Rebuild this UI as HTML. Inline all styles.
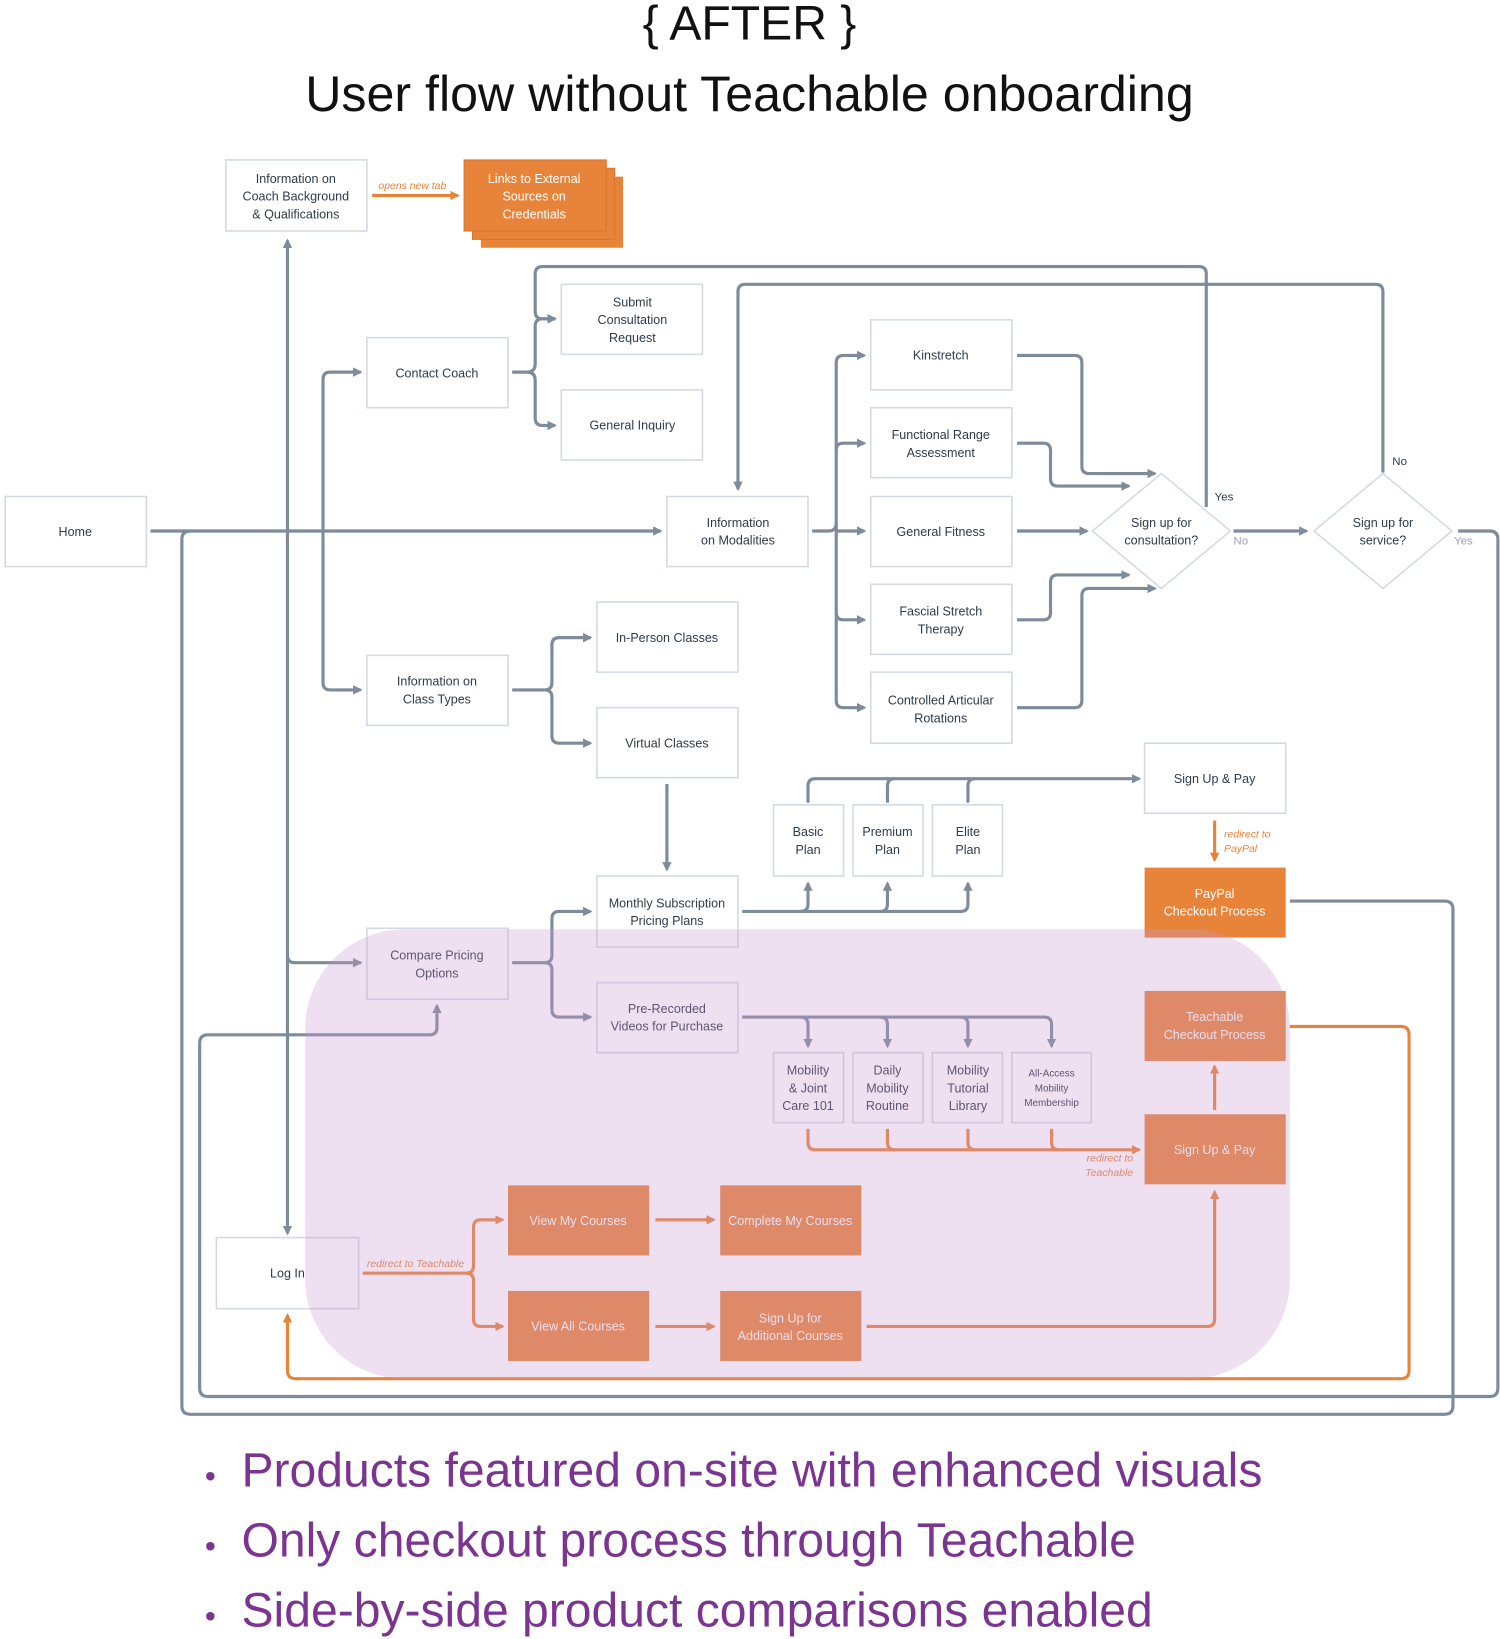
<!DOCTYPE html>
<html><head><meta charset="utf-8"><style>
html,body{margin:0;padding:0;background:#fff;}
svg{display:block;}
.n{font-family:"Liberation Sans",sans-serif;font-size:12px;fill:#2f3b48;text-anchor:middle;}
.w{fill:#fff;}
.lb{font-family:"Liberation Sans",sans-serif;font-size:10px;font-style:italic;fill:#e8843a;}
.g{fill:none;stroke:#7d8b9a;stroke-width:3;stroke-linejoin:round;}
.o{fill:none;stroke:#e8843a;stroke-width:3;stroke-linejoin:round;}
.bx{fill:#fff;stroke:#d3dae4;stroke-width:1.5;}
.ob{fill:#e8843a;}
</style></head><body>
<svg width="1500" height="1639" viewBox="0 0 1435 1568" xmlns="http://www.w3.org/2000/svg">
<defs>
<marker id="ag" viewBox="0 0 10 10" refX="8" refY="5" markerWidth="3" markerHeight="3" orient="auto"><path d="M0,0L10,5L0,10z" fill="#7d8b9a"/></marker>
<marker id="ao" viewBox="0 0 10 10" refX="8" refY="5" markerWidth="3" markerHeight="3" orient="auto"><path d="M0,0L10,5L0,10z" fill="#e8843a"/></marker>
</defs>
<text x="717" y="38" font-family="Liberation Sans,sans-serif" font-size="46" text-anchor="middle" fill="#111">{ AFTER }</text>
<text x="717" y="106" font-family="Liberation Sans,sans-serif" font-size="48" text-anchor="middle" fill="#111">User flow without Teachable onboarding</text>

<g class="g">
<path d="M144,508H632" marker-end="url(#ag)"/>
<path d="M275,1178V230" marker-end="url(#ag)"/>
<path d="M275,1178V1180" marker-end="url(#ag)"/>
<path d="M275,914Q275,921 282,921H345" marker-end="url(#ag)"/>
<path d="M309,508V363Q309,356 316,356H345" marker-end="url(#ag)"/>
<path d="M309,508V653Q309,660 316,660H345" marker-end="url(#ag)"/>
<path d="M490,356H504Q512,356 512,348V312Q512,305 519,305H531" marker-end="url(#ag)"/>
<path d="M504,356Q512,356 512,364V400Q512,407 519,407H531" marker-end="url(#ag)"/>
<path d="M1154,485V262Q1154,255 1147,255H519Q512,255 512,262V298Q512,305 519,305H531" marker-end="url(#ag)"/>
<path d="M1323,452V279Q1323,272 1316,272H713Q706,272 706,279V468" marker-end="url(#ag)"/>
<path d="M777,508H793Q800,508 800,500V347Q800,340 807,340H827" marker-end="url(#ag)"/>
<path d="M800,430Q800,424 807,424H827" marker-end="url(#ag)"/>
<path d="M800,508H827" marker-end="url(#ag)"/>
<path d="M800,500V670Q800,677 807,677H827" marker-end="url(#ag)"/>
<path d="M800,586Q800,593 807,593H827" marker-end="url(#ag)"/>
<path d="M973,340H1028Q1035,340 1035,347V446Q1035,453 1042,453H1105" marker-end="url(#ag)"/>
<path d="M973,424H998Q1005,424 1005,431V458Q1005,465 1012,465H1080" marker-end="url(#ag)"/>
<path d="M973,508H1040" marker-end="url(#ag)"/>
<path d="M973,593H998Q1005,593 1005,586V557Q1005,550 1012,550H1080" marker-end="url(#ag)"/>
<path d="M973,677H1028Q1035,677 1035,670V570Q1035,563 1042,563H1105" marker-end="url(#ag)"/>
<path d="M1180,508H1250" marker-end="url(#ag)"/>
<path d="M490,660H521Q528,660 528,653V617Q528,610 535,610H565" marker-end="url(#ag)"/>
<path d="M521,660Q528,660 528,667V704Q528,711 535,711H565" marker-end="url(#ag)"/>
<path d="M638,750V832" marker-end="url(#ag)"/>
<path d="M710,872H919Q926,872 926,865V845" marker-end="url(#ag)"/>
<path d="M766,872Q773,872 773,865V845" marker-end="url(#ag)"/>
<path d="M842,872Q849,872 849,865V845" marker-end="url(#ag)"/>
<path d="M773,768V752Q773,745 780,745H1090" marker-end="url(#ag)"/>
<path d="M849,768V752Q849,745 856,745"/>
<path d="M926,768V752Q926,745 933,745"/>
<path d="M490,921H521Q528,921 528,914V879Q528,872 535,872H565" marker-end="url(#ag)"/>
<path d="M521,921Q528,921 528,928V966Q528,973 535,973H565" marker-end="url(#ag)"/>
<path d="M710,973H999Q1006,973 1006,980V1001" marker-end="url(#ag)"/>
<path d="M766,973Q773,973 773,980V1001" marker-end="url(#ag)"/>
<path d="M842,973Q849,973 849,980V1001" marker-end="url(#ag)"/>
<path d="M919,973Q926,973 926,980V1001" marker-end="url(#ag)"/>
<path d="M1395,508H1425Q1433,508 1433,516V1328Q1433,1336 1425,1336H199Q191,1336 191,1328V998Q191,990 199,990H411Q418,990 418,983V962" marker-end="url(#ag)"/>
<path d="M1234,862H1382Q1390,862 1390,870V1345Q1390,1353 1382,1353H182Q174,1353 174,1345V516Q174,508 182,508"/>
</g>
<g class="o">
<path d="M356,187H438" marker-end="url(#ao)"/>
<path d="M1162,785V823" marker-end="url(#ao)"/>
<path d="M773,1080V1093Q773,1100 780,1100H1090" marker-end="url(#ao)"/>
<path d="M849,1080V1093Q849,1100 856,1100"/>
<path d="M926,1080V1093Q926,1100 933,1100"/>
<path d="M1006,1080V1093Q1006,1100 1013,1100"/>
<path d="M1162,1062V1020" marker-end="url(#ao)"/>
<path d="M1234,982H1340Q1348,982 1348,990V1311Q1348,1319 1340,1319H283Q275,1319 275,1311V1258" marker-end="url(#ao)"/>
<path d="M347,1218H446Q453,1218 453,1211V1174Q453,1167 460,1167H481" marker-end="url(#ao)"/>
<path d="M446,1218Q453,1218 453,1225V1262Q453,1269 460,1269H481" marker-end="url(#ao)"/>
<path d="M627,1167H683" marker-end="url(#ao)"/>
<path d="M627,1269H683" marker-end="url(#ao)"/>
<path d="M829,1269H1155Q1162,1269 1162,1262V1140" marker-end="url(#ao)"/>
</g>

<rect class="bx" x="216" y="153" width="135" height="68"/>
<text class="n" x="283" y="175">Information on</text><text class="n" x="283" y="192">Coach Background</text><text class="n" x="283" y="209">&amp; Qualifications</text>
<rect class="ob" x="460" y="169" width="136" height="68"/>
<rect class="ob" x="452" y="161" width="136" height="68" stroke="#d9752e" stroke-width="1"/>
<rect class="ob" x="444" y="153" width="136" height="68" stroke="#d9752e" stroke-width="1"/>
<text class="n w" x="511" y="175">Links to External</text><text class="n w" x="511" y="192">Sources on</text><text class="n w" x="511" y="209">Credentials</text>
<text class="lb" x="362" y="181">opens new tab</text>

<rect class="bx" x="537" y="272" width="135" height="67"/>
<text class="n" x="605" y="293">Submit</text><text class="n" x="605" y="310">Consultation</text><text class="n" x="605" y="327">Request</text>
<rect class="bx" x="351" y="323" width="135" height="67"/><text class="n" x="418" y="361">Contact Coach</text>
<rect class="bx" x="537" y="373" width="135" height="67"/><text class="n" x="605" y="411">General Inquiry</text>
<rect class="bx" x="833" y="306" width="135" height="67"/><text class="n" x="900" y="344">Kinstretch</text>
<rect class="bx" x="833" y="390" width="135" height="67"/><text class="n" x="900" y="420">Functional Range</text><text class="n" x="900" y="437">Assessment</text>
<rect class="bx" x="5" y="475" width="135" height="67"/><text class="n" x="72" y="513">Home</text>
<rect class="bx" x="638" y="475" width="135" height="67"/><text class="n" x="706" y="504">Information</text><text class="n" x="706" y="521">on Modalities</text>
<rect class="bx" x="833" y="475" width="135" height="67"/><text class="n" x="900" y="513">General Fitness</text>
<rect class="bx" x="833" y="559" width="135" height="67"/><text class="n" x="900" y="589">Fascial Stretch</text><text class="n" x="900" y="606">Therapy</text>
<rect class="bx" x="833" y="643" width="135" height="68"/><text class="n" x="900" y="674">Controlled Articular</text><text class="n" x="900" y="691">Rotations</text>
<path d="M1111,453L1177,508L1111,563L1045,508Z" fill="#fff" stroke="#d3dae4" stroke-width="1.5"/>
<text class="n" x="1111" y="504">Sign up for</text><text class="n" x="1111" y="521">consultation?</text>
<path d="M1323,453L1389,508L1323,563L1257,508Z" fill="#fff" stroke="#d3dae4" stroke-width="1.5"/>
<text class="n" x="1323" y="504">Sign up for</text><text class="n" x="1323" y="521">service?</text>
<text class="n" x="1171" y="479" style="font-size:11px">Yes</text>
<text class="n" x="1187" y="521" style="font-size:11px;fill:#9aa5b1">No</text>
<text class="n" x="1339" y="445" style="font-size:11px">No</text>
<text class="n" x="1400" y="521" style="font-size:11px;fill:#9aa5b1">Yes</text>

<rect class="bx" x="571" y="576" width="135" height="67"/><text class="n" x="638" y="614">In-Person Classes</text>
<rect class="bx" x="351" y="627" width="135" height="67"/><text class="n" x="418" y="656">Information on</text><text class="n" x="418" y="673">Class Types</text>
<rect class="bx" x="571" y="677" width="135" height="67"/><text class="n" x="638" y="715">Virtual Classes</text>
<rect class="bx" x="1095" y="711" width="135" height="67"/><text class="n" x="1162" y="749">Sign Up &amp; Pay</text>
<rect class="bx" x="740" y="770" width="67" height="68"/><text class="n" x="773" y="800">Basic</text><text class="n" x="773" y="817">Plan</text>
<rect class="bx" x="816" y="770" width="67" height="68"/><text class="n" x="849" y="800">Premium</text><text class="n" x="849" y="817">Plan</text>
<rect class="bx" x="892" y="770" width="67" height="68"/><text class="n" x="926" y="800">Elite</text><text class="n" x="926" y="817">Plan</text>
<text class="lb" x="1171" y="801">redirect to</text><text class="lb" x="1171" y="815">PayPal</text>
<rect class="ob" x="1095" y="830" width="135" height="67"/><text class="n w" x="1162" y="859">PayPal</text><text class="n w" x="1162" y="876">Checkout Process</text>
<rect class="bx" x="571" y="838" width="135" height="68"/><text class="n" x="638" y="868">Monthly Subscription</text><text class="n" x="638" y="885">Pricing Plans</text>
<rect class="bx" x="351" y="888" width="135" height="68"/><text class="n" x="418" y="918">Compare Pricing</text><text class="n" x="418" y="935">Options</text>
<rect class="bx" x="571" y="940" width="135" height="67"/><text class="n" x="638" y="969">Pre-Recorded</text><text class="n" x="638" y="986">Videos for Purchase</text>
<rect class="ob" x="1095" y="948" width="135" height="67"/><text class="n w" x="1162" y="977">Teachable</text><text class="n w" x="1162" y="994">Checkout Process</text>
<rect class="bx" x="740" y="1007" width="67" height="67"/><text class="n" x="773" y="1028">Mobility</text><text class="n" x="773" y="1045">&amp; Joint</text><text class="n" x="773" y="1062">Care 101</text>
<rect class="bx" x="816" y="1007" width="67" height="67"/><text class="n" x="849" y="1028">Daily</text><text class="n" x="849" y="1045">Mobility</text><text class="n" x="849" y="1062">Routine</text>
<rect class="bx" x="892" y="1007" width="67" height="67"/><text class="n" x="926" y="1028">Mobility</text><text class="n" x="926" y="1045">Tutorial</text><text class="n" x="926" y="1062">Library</text>
<rect class="bx" x="968" y="1007" width="76" height="67"/><text class="n" x="1006" y="1030" style="font-size:9.5px">All-Access</text><text class="n" x="1006" y="1044" style="font-size:9.5px">Mobility</text><text class="n" x="1006" y="1058" style="font-size:9.5px">Membership</text>
<rect class="ob" x="1095" y="1066" width="135" height="67"/><text class="n w" x="1162" y="1104">Sign Up &amp; Pay</text>
<text class="lb" x="1084" y="1111" text-anchor="end">redirect to</text><text class="lb" x="1084" y="1125" text-anchor="end">Teachable</text>
<rect class="ob" x="486" y="1134" width="135" height="67"/><text class="n w" x="553" y="1172">View My Courses</text>
<rect class="ob" x="689" y="1134" width="135" height="67"/><text class="n w" x="756" y="1172">Complete My Courses</text>
<rect class="bx" x="207" y="1184" width="136" height="68"/><text class="n" x="275" y="1222">Log In</text>
<text class="lb" x="351" y="1212">redirect to Teachable</text>
<rect class="ob" x="486" y="1235" width="135" height="67"/><text class="n w" x="553" y="1273">View All Courses</text>
<rect class="ob" x="689" y="1235" width="135" height="67"/><text class="n w" x="756" y="1265">Sign Up for</text><text class="n w" x="756" y="1282">Additional Courses</text>

<rect x="292" y="889" width="942" height="430" rx="95" ry="95" fill="rgb(200,150,210)" fill-opacity="0.3"/>

<g font-family="Liberation Sans,sans-serif" font-size="46" fill="#7b3590">
<text x="196" y="1422" font-size="30">•</text><text x="231" y="1422">Products featured on-site with enhanced visuals</text>
<text x="196" y="1489" font-size="30">•</text><text x="231" y="1489">Only checkout process through Teachable</text>
<text x="196" y="1556" font-size="30">•</text><text x="231" y="1556">Side-by-side product comparisons enabled</text>
</g>
</svg>
</body></html>
